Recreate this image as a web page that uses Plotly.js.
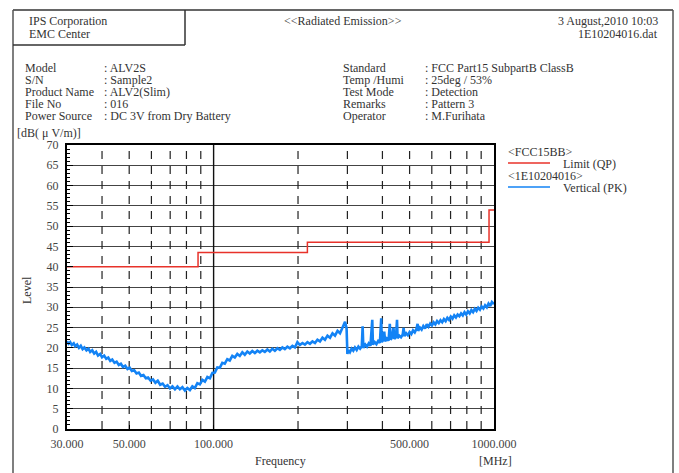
<!DOCTYPE html>
<html>
<head>
<meta charset="utf-8">
<script src="https://cdn.plot.ly/plotly-3.0.1.min.js"></script>
<style>
html,body{margin:0;padding:0;background:#fff;}
#chart{width:679px;height:473px;}
</style>
</head>
<body>
<div id="chart"></div>
<script>
// ---- data ----
const limitFreq = [30, 88, 216, 960, 1000];
const limitLevel = [40, 43.5, 46, 54, 54];

const measFreq = [
30.0,30.4,30.8,31.2,31.7,32.1,32.6,33.1,33.6,34.1,34.6,35.2,35.8,36.3,36.9,37.5,38.1,38.7,39.4,40.0,
40.7,41.4,42.1,42.8,43.5,44.3,45.1,45.9,46.7,47.5,48.4,49.3,50.2,51.1,52.1,53.1,54.1,55.1,56.2,57.3,
58.4,59.6,60.8,62.0,63.2,64.5,65.8,67.1,68.5,69.9,71.3,72.8,74.3,75.8,77.4,79.0,80.6,82.3,84.0,85.7,
87.5,89.3,91.2,93.1,95.0,97.0,99.0,101.0,103.1,105.2,107.4,109.6,111.9,114.2,116.6,119.0,121.5,124.0,126.6,129.2,
131.9,134.6,137.4,140.3,143.2,146.2,149.2,152.3,155.5,158.7,162.0,165.4,168.8,172.3,175.9,179.5,183.3,187.1,191.0,195.0,
199.0,203.1,207.4,211.7,216.1,220.6,225.2,229.9,234.6,239.5,244.5,249.6,254.8,260.1,265.5,271.0,276.7,282.4,288.3,294.3,
298.0,300.0,302.0,306.2,310.5,314.9,319.3,323.8,328.4,333.0,337.7,340.0,342.0,347.5,352.4,357.4,362.5,368.0,370.0,375.4,
380.8,386.2,391.7,396.0,398.0,403.0,406.0,409.0,414.8,420.7,425.0,428.0,433.0,438.0,441.0,447.2,451.0,453.0,459.5,466.0,
472.6,476.0,479.3,486.1,493.0,500.0,507.1,514.3,521.6,529.0,534.0,536.5,544.1,551.9,559.7,567.7,575.7,583.9,592.2,600.6,
609.1,617.7,626.5,635.4,644.4,653.5,662.8,672.2,681.7,691.4,701.2,711.2,721.3,731.5,741.9,752.4,763.1,773.9,784.9,796.0,
807.3,818.8,830.4,842.2,854.1,866.2,878.5,891.0,903.6,916.5,929.5,942.7,956.0,969.6,983.3,1000.0
];
const measLevel = [
21.6,21.0,21.4,20.7,21.1,20.4,20.8,20.0,20.5,19.7,20.1,19.4,19.8,19.0,19.4,18.6,19.0,18.1,18.5,17.7,
18.1,17.3,17.6,16.8,17.1,16.3,16.6,15.8,16.1,15.3,15.6,14.8,15.1,14.3,14.5,13.7,13.9,13.1,13.3,12.5,
12.7,11.9,12.2,11.4,11.9,10.9,11.2,10.4,10.8,10.0,10.5,9.8,10.5,9.8,10.3,9.5,10.1,9.6,10.5,10.1,
11.3,11.0,12.1,11.7,12.8,12.5,13.8,13.9,15.2,15.1,16.3,16.1,17.2,16.9,18.0,17.6,18.5,18.0,18.9,18.3,
19.1,18.6,19.2,18.7,19.3,18.9,19.4,19.0,19.6,19.1,19.8,19.3,19.9,19.5,20.1,19.7,20.3,19.9,20.5,20.1,
21.4,20.7,21.2,20.8,21.4,21.0,21.6,21.2,22.0,21.6,22.5,22.0,23.0,22.5,23.6,23.0,24.2,23.6,25.0,26.4,
24.8,18.5,19.4,18.9,19.8,19.3,20.1,19.5,20.3,19.8,20.4,25.3,20.0,20.8,20.3,21.1,20.5,26.9,20.8,21.4,
20.9,21.7,21.2,27.3,21.4,22.0,24.0,21.6,22.3,21.8,25.9,22.0,22.6,25.0,22.2,22.8,26.9,22.4,23.0,22.6,
23.3,24.9,22.9,23.6,23.1,23.9,23.4,24.3,23.8,24.7,25.9,24.2,25.0,24.5,25.4,24.8,25.8,25.2,26.0,25.5,
26.3,25.8,26.6,26.1,26.8,26.3,27.1,26.6,27.4,26.9,27.7,27.2,28.0,27.5,28.2,27.8,28.5,28.0,28.8,28.2,
29.0,28.5,29.3,28.8,29.6,29.1,29.9,29.4,30.2,29.7,30.5,30.0,30.9,30.3,31.3,30.8
];

const gridDashed = [40,50,60,70,80,90,200,300,400,500,600,700,800,900];
const gridSolid = [100];
const xTickVals = [30, 50, 100, 500, 1000];
const xTickText = ["30.000", "50.000", "100.000", "500.000", "1000.000"];

const headerLeft = ["IPS Corporation", "EMC Center"];
const headerTitle = "<<Radiated Emission>>";
const headerRight = ["3 August,2010 10:03", "1E10204016.dat"];
const infoLeftLabels = ["Model", "S/N", "Product Name", "File No", "Power Source"];
const infoLeftValues = [": ALV2S", ": Sample2", ": ALV2(Slim)", ": 016", ": DC 3V from Dry Battery"];
const infoRightLabels = ["Standard", "Temp /Humi", "Test Mode", "Remarks", "Operator"];
const infoRightValues = [": FCC Part15 SubpartB ClassB", ": 25deg / 53%", ": Detection", ": Pattern 3", ": M.Furihata"];
const legendItems = [
  {group: "<FCC15BB>", name: "Limit (QP)", color: "#e8322a"},
  {group: "<1E10204016>", name: "Vertical (PK)", color: "#1383f5"}
];

// ---- layout helpers (pixel -> paper) ----
const PL = 67, PR = 494, PT = 145, PB = 429;
const W = 679, H = 473;
const X = px => (px - PL) / (PR - PL);
const Y = py => (PB - py) / (PB - PT);
const FONT = "Liberation Serif, DejaVu Serif, serif";
const TXT = "#333";

function buildGrid(vals) {
  const xs = [], ys = [];
  vals.forEach(v => { xs.push(v, v, null); ys.push(0, 70, null); });
  return {xs, ys};
}
const gd = buildGrid(gridDashed);
const gs = buildGrid(gridSolid);

const traces = [
  {x: gd.xs, y: gd.ys, mode: "lines", line: {color: "#222", width: 1.2, dash: "8px,7px"}, hoverinfo: "skip", showlegend: false},
  {x: gs.xs, y: gs.ys, mode: "lines", line: {color: "#111", width: 1.4}, hoverinfo: "skip", showlegend: false},
  {x: measFreq, y: measLevel, mode: "lines", line: {color: legendItems[1].color, width: 2.6}, showlegend: false},
  {x: limitFreq, y: limitLevel, mode: "lines", line: {color: legendItems[0].color, width: 1.5, shape: "hv"}, showlegend: false}
];

const ann = [];
function txt(text, px, py, xa, size, extra) {
  ann.push(Object.assign({text: text, x: X(px), y: Y(py), xref: "paper", yref: "paper",
    xanchor: xa || "left", yanchor: "middle", showarrow: false, borderpad: 0,
    font: {family: FONT, size: size || 12, color: TXT}}, extra || {}));
}
txt(headerLeft[0], 28, 21);
txt(headerLeft[1], 28, 34);
txt(headerTitle, 343, 21, "center");
txt(headerRight[0], 659, 21, "right");
txt(headerRight[1], 659, 34, "right");
const rowsY = [68, 80, 92, 104, 116];
rowsY.forEach((ry, i) => {
  txt(infoLeftLabels[i], 24, ry);
  txt(infoLeftValues[i], 103, ry);
  txt(infoRightLabels[i], 342, ry);
  txt(infoRightValues[i], 424, ry);
});
txt("[dB( μ V/m)]", 16, 133);
txt("Level", 27, 290, "center", 12, {textangle: -90});
txt("Frequency", 280, 461, "center");
txt("[MHz]", 495, 461, "center");
txt(legendItems[0].group, 507, 152);
txt(legendItems[0].name, 562, 164);
txt(legendItems[1].group, 507, 176);
txt(legendItems[1].name, 562, 188);

const shapes = [];
function line(x0, y0, x1, y1, color, width) {
  shapes.push({type: "line", xref: "paper", yref: "paper", x0: X(x0), y0: Y(y0), x1: X(x1), y1: Y(y1),
    line: {color: color, width: width}});
}
line(13, 10, 673, 10, "#333", 1.5);
line(13, 10, 13, 473, "#555", 1.5);
line(673, 10, 673, 473, "#555", 1.5);
line(185, 10, 185, 45, "#333", 1.5);
line(13, 45, 185, 45, "#333", 1.5);
line(508, 163, 550, 163, legendItems[0].color, 1.5);
line(508, 187, 550, 187, legendItems[1].color, 1.5);

const layout = {
  width: W, height: H,
  margin: {l: PL, r: W - PR, t: PT, b: H - PB, pad: 0},
  paper_bgcolor: "#fff", plot_bgcolor: "#fff",
  showlegend: false,
  xaxis: {
    type: "log", range: [Math.log10(30), Math.log10(1000)],
    tickmode: "array", tickvals: xTickVals, ticktext: xTickText,
    showgrid: false, zeroline: false,
    showline: true, mirror: true, linecolor: "#000", linewidth: 2,
    ticks: "inside", ticklen: 4, tickcolor: "#000",
    tickfont: {family: FONT, size: 12, color: "#444"},
    ticklabelstandoff: 3
  },
  yaxis: {
    range: [0, 70], dtick: 5, tick0: 0,
    showgrid: true, gridcolor: "#444", gridwidth: 1, zeroline: false,
    showline: true, mirror: true, linecolor: "#000", linewidth: 2,
    ticks: "inside", ticklen: 6, tickcolor: "#000",
    minor: {dtick: 1, ticks: "inside", ticklen: 3, tickcolor: "#000", showgrid: false},
    tickfont: {family: FONT, size: 12, color: "#444"},
    ticklabelstandoff: 4
  },
  annotations: ann,
  shapes: shapes
};

Plotly.newPlot("chart", traces, layout, {staticPlot: true, displayModeBar: false});
</script>
</body>
</html>
